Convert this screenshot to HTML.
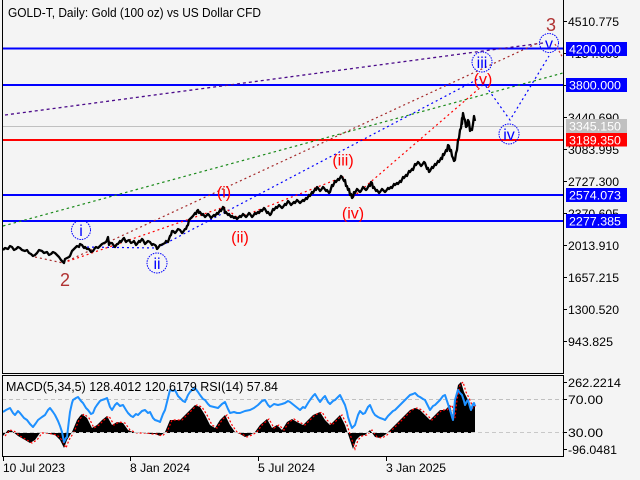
<!DOCTYPE html>
<html><head><meta charset="utf-8"><style>
html,body{margin:0;padding:0;background:#f4f4f4;}
svg{display:block;}
text{font-family:"Liberation Sans",sans-serif;}
</style></head><body>
<svg width="640" height="480" viewBox="0 0 640 480" xmlns="http://www.w3.org/2000/svg">
<rect width="640" height="480" fill="#f4f4f4"/>

<!-- title -->
<text x="8" y="17" font-size="12.5" fill="#000" textLength="253" lengthAdjust="spacingAndGlyphs">GOLD-T, Daily:  Gold (100 oz) vs US Dollar CFD</text>

<!-- horizontal levels -->
<line x1="2" y1="126.5" x2="563" y2="126.5" stroke="#c0c0c0" stroke-width="1"/>
<line x1="2" y1="48.5" x2="563" y2="48.5" stroke="#0000ff" stroke-width="2"/>
<line x1="2" y1="85" x2="563" y2="85" stroke="#0000ff" stroke-width="2"/>
<line x1="2" y1="195" x2="563" y2="195" stroke="#0000ff" stroke-width="2"/>
<line x1="2" y1="221" x2="563" y2="221" stroke="#0000ff" stroke-width="2"/>
<line x1="2" y1="140" x2="563" y2="140" stroke="#ff0000" stroke-width="2"/>

<!-- trend dashed lines -->
<line x1="5" y1="115" x2="543" y2="43" stroke="#4b0a8a" stroke-width="1.3" stroke-dasharray="3 3"/>
<line x1="3" y1="226" x2="563" y2="73" stroke="#1a8a1a" stroke-width="1.2" stroke-dasharray="2.5 3"/>
<line x1="35" y1="257" x2="63" y2="263" stroke="#a52a2a" stroke-width="1.2" stroke-dasharray="2 3"/>
<line x1="63" y1="263" x2="540" y2="42" stroke="#a52a2a" stroke-width="1.2" stroke-dasharray="2 3"/>
<line x1="555" y1="44" x2="563" y2="58" stroke="#d03030" stroke-width="1.2" stroke-dasharray="2 2"/>
<polyline points="82,247 157,248 480,78 510,120 549,56" fill="none" stroke="#0000ff" stroke-width="1.2" stroke-dasharray="2 3"/>
<polyline points="63,263 224,207 238,218 343,177 352,198 482,86" fill="none" stroke="#ff0000" stroke-width="1.2" stroke-dasharray="2 3"/>

<!-- price -->
<polyline fill="none" stroke="#000" stroke-width="2.3" stroke-linejoin="round" points="3,250 5,248 8,249 10,246 12,247 14,250 16,249 18,247 20,248 22,250 25,251 27,250 29,253 31,254 33,256 35,255 37,253 39,250 42,251 44,253 47,252 49,255 51,254 53,252 55,253 57,255 59,257 61,260 62,261 64,263 65,259 67,258 69,257 70,256 72,251 73,250 75,248 77,246 79,247 80,244 82,245 84,248 85,247 87,249 89,249 91,252 93,251 95,248 96,247 98,248 100,246 102,244 104,243 106,242 107,240 108,237 109,245 110,243 112,243 114,246 115,247 117,244 118,244 120,241 121,242 123,239 124,238 126,242 127,241 129,240 131,243 133,242 134,241 136,245 137,244 139,241 140,242 142,239 143,240 145,244 146,243 148,241 150,242 152,245 153,244 155,245 156,246 157,249 158,248 160,245 161,245 163,244 165,243 166,241 168,242 170,236 171,235 172,231 173,231 175,233 176,232 178,229 180,230 182,233 183,232 185,229 186,229 187,226 188,225 189,220 190,219 192,217 193,216 195,213 196,214 197,211 198,210 199,213 200,212 202,215 203,214 205,217 206,216 208,214 209,215 211,218 212,217 214,215 215,216 217,213 218,214 220,210 221,211 223,207 224,208 225,213 226,212 228,215 229,214 231,217 232,216 234,218 235,217 237,219 238,218 240,216 241,217 243,214 244,215 246,217 247,216 249,213 250,214 252,217 253,216 255,213 256,214 258,212 259,213 261,210 262,211 264,208 265,209 267,213 268,212 270,215 271,214 273,209 274,210 276,207 277,208 279,205 280,206 282,208 283,207 285,204 286,205 288,201 289,202 291,205 292,204 294,202 295,203 297,200 298,201 300,203 301,202 303,200 304,201 306,198 307,199 309,195 310,196 312,192 313,193 315,189 316,190 317,187 318,188 320,191 321,190 323,187 324,188 326,191 327,190 329,193 330,192 332,185 333,186 335,181 336,182 338,179 339,180 341,176 342,177 344,181 345,180 346,186 347,186 348,190 349,189 350,195 351,194 352,198 353,197 354,192 355,193 357,189 358,190 360,192 361,191 363,187 364,188 366,190 367,189 369,185 370,186 371,182 372,183 373,188 374,187 376,191 377,190 379,193 380,192 382,189 383,190 385,192 386,191 388,188 389,189 391,187 392,188 394,184 395,185 397,183 398,184 400,181 401,182 403,177 404,178 406,175 407,176 409,171 410,172 412,169 413,170 415,164 416,165 418,162 419,163 421,166 422,165 424,162 425,163 427,169 428,168 429,172 430,171 432,167 433,168 435,164 436,165 438,161 439,162 441,158 442,159 443,154 444,155 446,150 447,151 448,145 449,146 450,151 451,150 452,156 453,158 454,161 455,160 456,153 457,150 458,140 459,138 460,130 461,128 462,118 462,124 463,113 464,118 465,120 466,127 467,126 468,120 469,122 470,131 471,129 472,130 473,124 474,116 475,121"/>

<!-- wave labels -->
<g font-size="16" fill="#ff0000" text-anchor="middle">
<text x="224" y="197.5">(i)</text>
<text x="240" y="242.5">(ii)</text>
<text x="343" y="165.5">(iii)</text>
<text x="353" y="218.5">(iv)</text>
<text x="483" y="84.5">(v)</text>
</g>
<g fill="none" stroke="#0000ff" stroke-width="1" stroke-dasharray="1.5 1">
<circle cx="81" cy="230" r="9.5"/>
<circle cx="157" cy="263" r="10"/>
<circle cx="482" cy="62" r="10"/>
<circle cx="509" cy="134" r="10"/>
<circle cx="549" cy="43" r="9.5"/>
</g>
<g font-size="16" fill="#0000ff" text-anchor="middle">
<text x="81" y="236">i</text>
<text x="157" y="269">ii</text>
<text x="482" y="68">iii</text>
<text x="509" y="140">iv</text>
<text x="549" y="49">v</text>
</g>
<g font-size="18" fill="#b03232" text-anchor="middle">
<text x="65" y="286">2</text>
<text x="551" y="31">3</text>
</g>

<!-- main frame -->
<line x1="2.5" y1="0" x2="2.5" y2="373" stroke="#000" stroke-width="1"/>
<line x1="563.5" y1="0" x2="563.5" y2="373" stroke="#000" stroke-width="1"/>
<line x1="2" y1="373.5" x2="564" y2="373.5" stroke="#000" stroke-width="1"/>

<!-- right axis ticks -->
<g stroke="#000" stroke-width="1">
<line x1="563" y1="21.5" x2="567" y2="21.5"/>
<line x1="563" y1="53.5" x2="567" y2="53.5"/>
<line x1="563" y1="85.5" x2="567" y2="85.5"/>
<line x1="563" y1="117.5" x2="567" y2="117.5"/>
<line x1="563" y1="149.5" x2="567" y2="149.5"/>
<line x1="563" y1="181.5" x2="567" y2="181.5"/>
<line x1="563" y1="213.5" x2="567" y2="213.5"/>
<line x1="563" y1="245.5" x2="567" y2="245.5"/>
<line x1="563" y1="277.5" x2="567" y2="277.5"/>
<line x1="563" y1="309.5" x2="567" y2="309.5"/>
<line x1="563" y1="341.5" x2="567" y2="341.5"/>
</g>
<g font-size="12" fill="#000">
<text x="568" y="26" textLength="51" lengthAdjust="spacingAndGlyphs">4510.775</text>
<text x="568" y="58" textLength="51" lengthAdjust="spacingAndGlyphs">4154.080</text>
<text x="568" y="90" textLength="51" lengthAdjust="spacingAndGlyphs">3797.385</text>
<text x="568" y="122" textLength="51" lengthAdjust="spacingAndGlyphs">3440.690</text>
<text x="568" y="154" textLength="51" lengthAdjust="spacingAndGlyphs">3083.995</text>
<text x="568" y="186" textLength="51" lengthAdjust="spacingAndGlyphs">2727.300</text>
<text x="568" y="218" textLength="51" lengthAdjust="spacingAndGlyphs">2370.605</text>
<text x="568" y="250" textLength="51" lengthAdjust="spacingAndGlyphs">2013.910</text>
<text x="568" y="282" textLength="51" lengthAdjust="spacingAndGlyphs">1657.215</text>
<text x="568" y="314" textLength="51" lengthAdjust="spacingAndGlyphs">1300.520</text>
<text x="568" y="346" textLength="45" lengthAdjust="spacingAndGlyphs">943.825</text>
</g>
<!-- price boxes -->
<rect x="566" y="42" width="61" height="14" fill="#0000ff"/>
<rect x="566" y="78" width="61" height="14" fill="#0000ff"/>
<rect x="566" y="119" width="61" height="14" fill="#c0c0c0"/>
<rect x="566" y="133" width="61" height="13.5" fill="#ff0000"/>
<rect x="566" y="188" width="61" height="14" fill="#0000ff"/>
<rect x="566" y="214" width="61" height="14" fill="#0000ff"/>
<g font-size="12" fill="#fff">
<text x="569" y="53.5" textLength="52" lengthAdjust="spacingAndGlyphs">4200.000</text>
<text x="569" y="89.5" textLength="52" lengthAdjust="spacingAndGlyphs">3800.000</text>
<text x="569" y="130.5" textLength="52" lengthAdjust="spacingAndGlyphs">3345.150</text>
<text x="569" y="144.5" textLength="52" lengthAdjust="spacingAndGlyphs">3189.350</text>
<text x="569" y="199.5" textLength="52" lengthAdjust="spacingAndGlyphs">2574.073</text>
<text x="569" y="225.5" textLength="52" lengthAdjust="spacingAndGlyphs">2277.385</text>
</g>

<!-- subwindow -->
<line x1="2" y1="399.5" x2="563" y2="399.5" stroke="#c0c0c0" stroke-width="1" stroke-dasharray="4 3"/>
<polygon fill="#000" points="3,433 3,436 8,430 12,431 18,436 25,440 30,443 35,440 40,433 45,433 50,434 55,435 60,440 64,448 67,440 72,432 77,420 80,416 82,414 87,418 92,428 97,425 102,420 107,416 112,425 117,422 123,423 128,430 135,433 145,433 150,434 155,434 160,436 165,432 170,420 175,420 180,420 185,415 190,410 195,405 200,407 205,415 210,425 215,428 220,420 225,415 230,425 235,432 240,434 245,437 250,435 255,432 260,425 267,419 272,428 277,425 282,430 287,422 292,419 297,422 303,425 308,420 313,415 320,412 325,420 330,425 335,420 340,415 345,425 350,440 353,449 356,440 360,436 365,435 370,430 375,437 380,438 385,435 390,430 395,425 400,420 405,415 410,410 415,408 420,410 425,415 430,420 435,415 440,410 445,410 450,405 453,418 455,400 458,385 461,382 464,392 468,400 471,408 475,405 475,433"/>
<polyline fill="none" stroke="#ff0000" stroke-width="1.2" stroke-dasharray="2 2" points="5,436 10,430 14,431 20,436 27,440 32,443 37,440 42,433 47,433 52,434 57,435 62,440 66,448 69,440 74,432 79,420 84,414 89,418 94,428 99,425 104,420 109,416 114,425 119,422 125,423 130,430 137,433 147,433 152,434 157,434 162,436 167,432 172,420 177,420 182,420 187,415 192,410 197,405 202,407 207,415 212,425 217,428 222,420 227,415 232,425 237,432 242,434 247,437 252,435 257,432 262,425 269,419 274,428 279,425 284,430 289,422 294,419 299,422 305,425 310,420 315,415 322,412 327,420 332,425 337,420 342,415 347,425 352,440 355,449 358,440 362,436 367,435 372,430 377,437 382,438 387,435 392,430 397,425 402,420 407,415 412,410 417,408 422,410 427,415 432,420 437,415 442,410 447,410 452,405 455,418 457,400 460,385 463,382 466,392 470,400 473,408 476,405"/>
<line x1="2" y1="432.5" x2="563" y2="432.5" stroke="#c8c8c8" stroke-width="1" stroke-dasharray="4 3"/>
<polyline fill="none" stroke="#1e90ff" stroke-width="2" stroke-linejoin="round" points="3,412 6,410 10,408 13,413 15,415 18,411 20,413 24,418 27,420 30,424 33,427 36,423 38,420 42,417 45,415 48,410 50,408 53,412 55,415 58,421 60,426 62,432 64,442 66,438 67,437 69,420 70,412 72,403 73,400 76,398 78,397 81,401 83,403 86,408 88,410 91,414 93,413 95,408 97,405 100,401 102,400 105,399 107,398 110,407 112,410 115,405 117,403 120,406 123,405 126,410 128,413 131,416 133,417 136,414 138,415 142,411 145,410 148,413 150,412 153,418 155,420 158,421 160,422 163,414 165,410 168,398 170,390 173,391 175,390 178,396 180,398 183,401 185,402 188,395 190,392 193,389 195,388 198,392 200,395 203,399 205,400 208,404 210,406 214,407 218,408 222,404 225,402 228,409 230,413 234,412 237,413 240,413 245,411 250,410 254,408 258,405 262,401 265,400 268,405 270,407 274,404 278,405 282,404 285,403 288,401 290,402 295,406 300,410 303,407 305,408 308,403 310,400 313,396 315,394 318,399 320,402 323,398 325,396 328,402 330,404 333,401 335,400 338,397 340,395 343,401 345,405 347,412 348,417 350,423 352,428 354,426 355,425 358,415 360,411 363,414 365,413 368,407 370,405 373,412 375,415 378,417 380,418 383,419 385,420 388,416 390,414 393,411 395,410 398,407 400,405 403,402 405,400 408,397 410,395 413,394 415,393 418,396 420,397 423,399 425,400 428,406 430,410 433,406 435,405 438,402 440,400 443,396 445,395 448,404 450,410 452,417 453,420 454,410 455,400 457,393 458,390 460,393 462,395 464,401 465,405 467,401 468,400 470,407 471,410 473,404 474,403 475,406"/>

<!-- subwindow frame -->
<line x1="2" y1="375.5" x2="564" y2="375.5" stroke="#000" stroke-width="1"/>
<line x1="2" y1="456.5" x2="564" y2="456.5" stroke="#000" stroke-width="1"/>
<line x1="2.5" y1="375" x2="2.5" y2="457" stroke="#000" stroke-width="1"/>
<line x1="563.5" y1="375" x2="563.5" y2="457" stroke="#000" stroke-width="1"/>
<text x="6" y="391" font-size="12.5" fill="#000" textLength="272" lengthAdjust="spacingAndGlyphs">MACD(5,34,5) 128.4012 120.6179 RSI(14) 57.84</text>
<g stroke="#000" stroke-width="1">
<line x1="563" y1="382.5" x2="567" y2="382.5"/>
<line x1="563" y1="399.5" x2="567" y2="399.5"/>
<line x1="563" y1="432.5" x2="567" y2="432.5"/>
<line x1="563" y1="449.5" x2="567" y2="449.5"/>
</g>
<g font-size="12" fill="#000">
<text x="568" y="387" textLength="53" lengthAdjust="spacingAndGlyphs">262.2214</text>
<text x="568" y="404" textLength="35" lengthAdjust="spacingAndGlyphs">70.00</text>
<text x="568" y="437" textLength="35" lengthAdjust="spacingAndGlyphs">30.00</text>
<text x="568" y="454" textLength="49" lengthAdjust="spacingAndGlyphs">-96.0481</text>
</g>

<!-- x axis -->
<g stroke="#000" stroke-width="1">
<line x1="3.5" y1="456" x2="3.5" y2="461"/>
<line x1="130.5" y1="456" x2="130.5" y2="461"/>
<line x1="258.5" y1="456" x2="258.5" y2="461"/>
<line x1="386.5" y1="456" x2="386.5" y2="461"/>
</g>
<g font-size="12" fill="#000">
<text x="3" y="472" textLength="62" lengthAdjust="spacingAndGlyphs">10 Jul 2023</text>
<text x="130" y="472" textLength="60" lengthAdjust="spacingAndGlyphs">8 Jan 2024</text>
<text x="258" y="472" textLength="57" lengthAdjust="spacingAndGlyphs">5 Jul 2024</text>
<text x="386" y="472" textLength="60" lengthAdjust="spacingAndGlyphs">3 Jan 2025</text>
</g>
</svg>
</body></html>
